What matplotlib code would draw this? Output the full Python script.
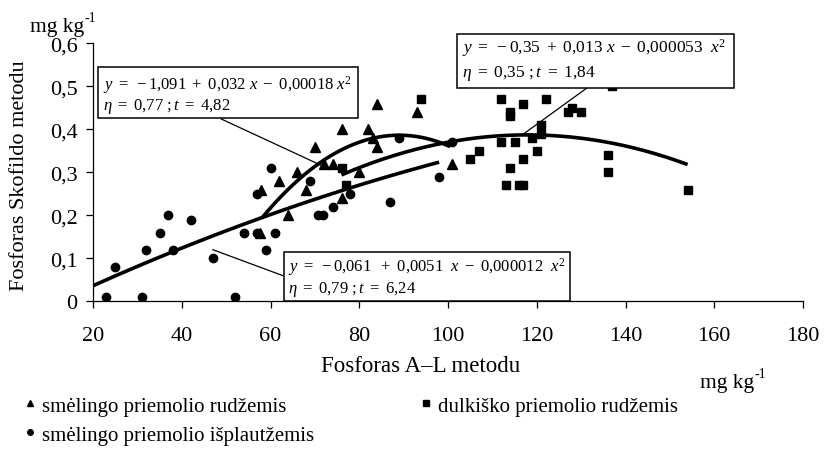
import numpy as np
import matplotlib
matplotlib.use("Agg")
import matplotlib.pyplot as plt
from matplotlib.ticker import FuncFormatter
from matplotlib.patches import Rectangle
from matplotlib.lines import Line2D

plt.rcParams["font.family"] = ["Liberation Serif", "DejaVu Serif"]
plt.rcParams["mathtext.fontset"] = "custom"
plt.rcParams["mathtext.rm"] = "Liberation Serif"
plt.rcParams["mathtext.it"] = "Liberation Serif:italic"

# smėlingo priemolio rudžemis (triangles)
tri_x = [57.9, 57.7, 61.9, 63.9, 65.9, 68, 70, 72, 74, 76, 76, 80, 82, 83, 84, 84, 93, 101]
tri_y = [0.26, 0.16, 0.28, 0.20, 0.30, 0.26, 0.36, 0.32, 0.32, 0.40, 0.24, 0.30, 0.40, 0.38, 0.36, 0.46, 0.44, 0.32]

# smėlingo priemolio išplautžemis (circles)
circ_x = [23, 25, 31, 32, 35, 37, 38, 42, 47, 52, 54, 57, 57, 59, 60, 61, 69, 70.8, 71.9, 74, 78, 87, 89, 98, 101]
circ_y = [0.01, 0.08, 0.01, 0.12, 0.16, 0.20, 0.12, 0.19, 0.10, 0.01, 0.16, 0.25, 0.16, 0.12, 0.31, 0.16, 0.28, 0.20, 0.20, 0.22, 0.25, 0.23, 0.38, 0.29, 0.37]

# dulkiško priemolio rudžemis (squares)
sq_x = [76, 77, 94, 105, 107, 112, 112, 113, 114, 114, 114, 115, 116, 117, 117, 117, 119, 120, 121, 121, 122, 127, 128, 130, 136, 136, 137, 154]
sq_y = [0.31, 0.27, 0.47, 0.33, 0.35, 0.47, 0.37, 0.27, 0.44, 0.43, 0.31, 0.37, 0.27, 0.46, 0.33, 0.27, 0.38, 0.35, 0.41, 0.39, 0.47, 0.44, 0.45, 0.44, 0.34, 0.30, 0.50, 0.26]

# fitted curves as drawn: coefficients c0, c1, c2 and x range
fit_circ = [-0.061, 0.0051, -0.000012]
fit_circ_range = [20, 98]
fit_tri = [-1.206, 0.03578, -0.000201]
fit_tri_range = [58, 100.5]
fit_sq = [-0.35, 0.0125, -0.000053]
fit_sq_range = [76, 154]

labels = ["smėlingo priemolio rudžemis", "smėlingo priemolio išplautžemis", "dulkiško priemolio rudžemis"]

W, H = 830, 452


def fx(x):
    return x / W


def fy(y):
    return 1 - y / H


fig = plt.figure(figsize=(8.3, 4.52), dpi=100)
ax = fig.add_axes([fx(93), fy(302.3), 710 / W, 258 / H])

ax.plot(tri_x, tri_y, "^", color="black", ms=6.5, zorder=3)
ax.plot(circ_x, circ_y, "o", color="black", ms=6, zorder=3)
ax.plot(sq_x, sq_y, "s", color="black", ms=6, zorder=3)

for c, r in [(fit_circ, fit_circ_range), (fit_tri, fit_tri_range), (fit_sq, fit_sq_range)]:
    xs = np.linspace(r[0], r[1], 200)
    ax.plot(xs, np.polyval(c[::-1], xs), color="black", lw=2.6, solid_capstyle="butt", zorder=3)

ax.set_xlim(20, 180)
ax.set_ylim(0, 0.6)
ax.set_xticks(range(20, 181, 20))
ax.set_yticks(np.arange(0, 0.61, 0.1))
ax.yaxis.set_major_formatter(FuncFormatter(lambda v, p: "0" if v == 0 else f"{v:.1f}".replace(".", ",")))
for s in ["top", "right"]:
    ax.spines[s].set_visible(False)
for s in ["left", "bottom"]:
    ax.spines[s].set_linewidth(0.9)
ax.tick_params(axis="x", direction="out", length=5, width=0.9, pad=13, labelsize=16)
ax.tick_params(axis="y", direction="out", length=5, width=0.9, pad=6, labelsize=16)

# equation boxes
boxes = [
    ((21.1, 0.426), 58.6, 0.119, 22.3, 0.505, 0.456, 12,
     r"$y\ =\ -1{,}091\ +\ 0{,}032\ x\ -\ 0{,}00018\ x^{2}$", r"$\eta\ =\ 0{,}77\ ;t\ =\ 4{,}82$"),
    ((102.0, 0.495), 62.4, 0.127, 103.2, 0.591, 0.533, 12.5,
     r"$y\ =\ -0{,}35\ +\ 0{,}013\ x\ -\ 0{,}000053\ \ x^{2}$", r"$\eta\ =\ 0{,}35\ ;t\ =\ 1{,}84$"),
    ((63.0, 0.0), 64.5, 0.114, 63.9, 0.082, 0.029, 12,
     r"$y\ =\ -0{,}061\ \ +\ 0{,}0051\ \ x\ -\ 0{,}000012\ \ x^{2}$", r"$\eta\ =\ 0{,}79\ ;t\ =\ 6{,}24$"),
]
for xy, w, h, tx, ty1, ty2, fs, s1, s2 in boxes:
    ax.add_patch(Rectangle(xy, w, h, facecolor="white", edgecolor="black", lw=1.1, clip_on=False, zorder=5))
    ax.text(tx, ty1, s1, fontsize=fs, va="center", ha="left", zorder=6)
    ax.text(tx, ty2, s2, fontsize=fs, va="center", ha="left", zorder=6)

# callout lines
for (x0, y0), (x1, y1) in [((48.9, 0.424), (72.3, 0.312)), ((132.5, 0.505), (117.0, 0.389)), ((47.0, 0.12), (62.7, 0.06))]:
    ax.plot([x0, x1], [y0, y1], color="black", lw=0.9, zorder=4, clip_on=False)

# axis labels and units
fig.text(fx(20), fy(176), "Fosforas Skofildo metodu", rotation=90, ha="center", va="center", fontsize=16)
fig.text(fx(421), fy(367), "Fosforas A–L metodu", ha="center", va="center", fontsize=16.5)
fig.text(fx(30), fy(32), "mg kg", ha="left", va="baseline", fontsize=15.5)
fig.text(fx(84), fy(22), "-1", ha="left", va="baseline", fontsize=10)
fig.text(fx(700), fy(388), "mg kg", ha="left", va="baseline", fontsize=15.5)
fig.text(fx(754), fy(378), "-1", ha="left", va="baseline", fontsize=10)

# legend
h_tri = Line2D([], [], ls="none", marker="^", color="black", ms=4.5)
h_circ = Line2D([], [], ls="none", marker="o", color="black", ms=4)
h_sq = Line2D([], [], ls="none", marker="s", color="black", ms=4)
common = dict(loc="upper left", frameon=False, borderpad=0, borderaxespad=0, handlelength=0.5,
              handletextpad=0.3, labelspacing=0.45, fontsize=15)
fig.legend([h_tri, h_circ], labels[:2], bbox_to_anchor=(fx(25), fy(397)), **common)
fig.legend([h_sq], labels[2:], bbox_to_anchor=(fx(421), fy(397)), **common)

fig.savefig("out.png", dpi=100)
